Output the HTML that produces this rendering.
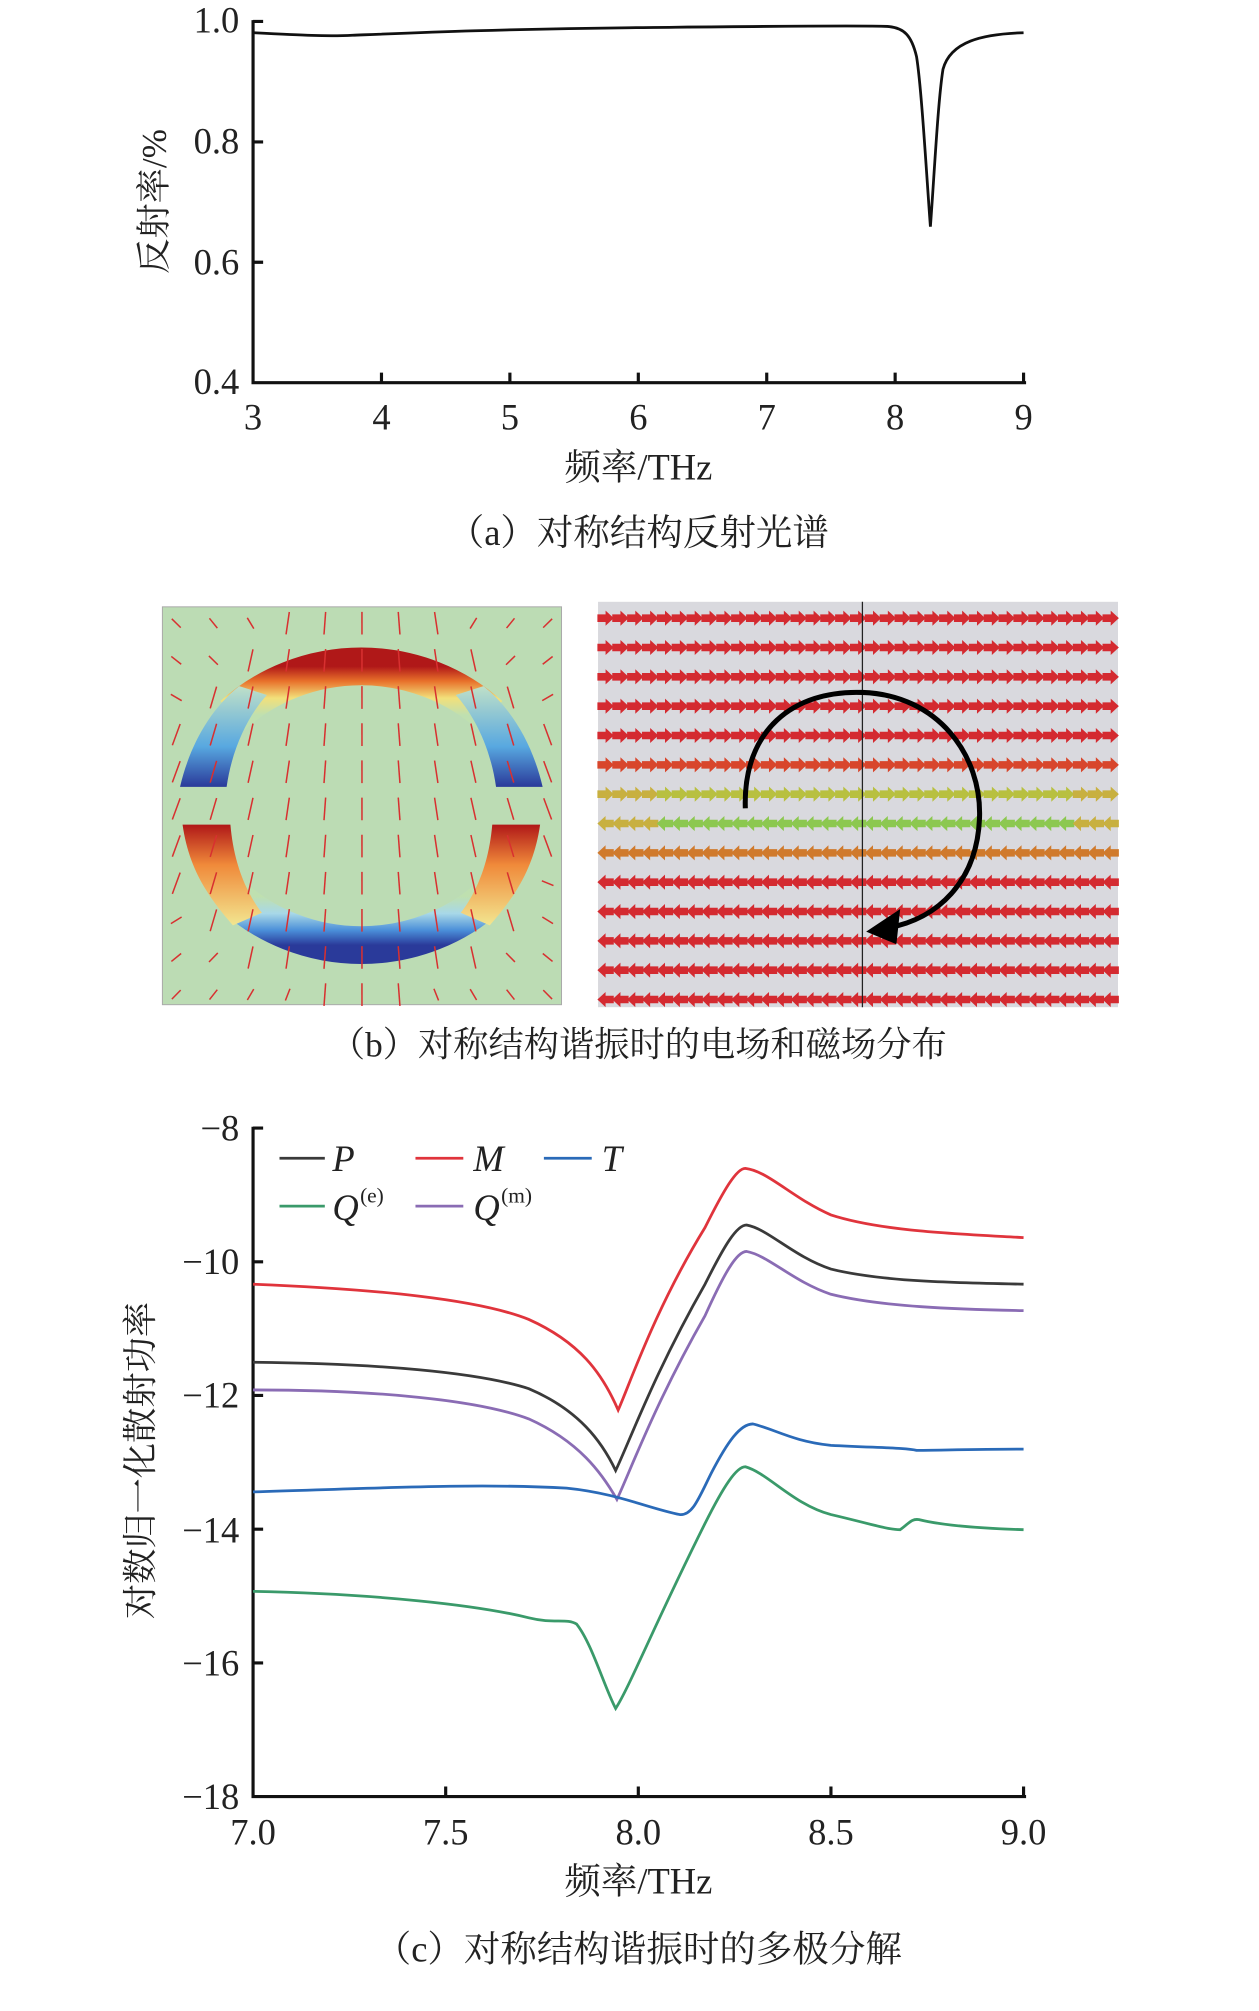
<!DOCTYPE html>
<html><head><meta charset="utf-8"><style>
html,body{margin:0;padding:0;background:#fff;}
svg{display:block;}
text{font-family:"Liberation Serif","Noto Serif CJK SC",serif;fill:#222;}
</style></head><body>
<svg id="s" width="1259" height="2011" viewBox="0 0 1000 1597.3" xmlns="http://www.w3.org/2000/svg">
<defs>
<linearGradient id="gt" x1="0" y1="0" x2="0" y2="1"><stop offset="0" stop-color="#b01818"/><stop offset="0.3" stop-color="#e8702a"/><stop offset="0.65" stop-color="#f2e07a"/><stop offset="1" stop-color="#bfe0b0"/></linearGradient>
<linearGradient id="gb" x1="0" y1="1" x2="0" y2="0"><stop offset="0" stop-color="#2a3a9a"/><stop offset="0.3" stop-color="#4a8ed8"/><stop offset="0.65" stop-color="#a8d8e8"/><stop offset="1" stop-color="#bfe0b0"/></linearGradient>
<linearGradient id="gsb" x1="0" y1="1" x2="0" y2="0"><stop offset="0" stop-color="#2a3a9a"/><stop offset="0.4" stop-color="#58a8e0"/><stop offset="1" stop-color="#bfe0c8"/></linearGradient>
<linearGradient id="gsr" x1="0" y1="0" x2="0" y2="1"><stop offset="0" stop-color="#b01818"/><stop offset="0.4" stop-color="#f08a3a"/><stop offset="1" stop-color="#f2e690"/></linearGradient>
</defs>

<!-- Chart a -->
<g stroke="#111" stroke-width="2.5" fill="none">
<path d="M201,16 V304 H815"/>
<path d="M201,17 h8 M201,112.7 h8 M201,208.3 h8"/>
<path d="M303,304 v-8 M405,304 v-8 M507,304 v-8 M609,304 v-8 M711,304 v-8 M813,304 v-8"/>
</g>
<path d="M201,26 C240,28 260,29 280,28 C330,26 400,23 500,22 C600,21 680,20 705,21 C718,22 724,28 728,45 C732,70 736,140 739,180 C742,140 745,80 749,55 C755,33 780,27 813,26" fill="none" stroke="#111" stroke-width="2.2"/>
<g font-size="29" text-anchor="end">
<text x="190" y="26">1.0</text><text x="190" y="122">0.8</text><text x="190" y="218">0.6</text><text x="190" y="313">0.4</text>
</g>
<g font-size="29" text-anchor="middle">
<text x="201" y="341">3</text><text x="303" y="341">4</text><text x="405" y="341">5</text><text x="507" y="341">6</text><text x="609" y="341">7</text><text x="711" y="341">8</text><text x="813" y="341">9</text>
<text x="507" y="381">频率/THz</text>
<text x="507" y="433">（a）对称结构反射光谱</text>
</g>
<text font-size="28" text-anchor="middle" transform="translate(132,160) rotate(-90)">反射率/%</text>

<!-- Panel b left -->
<rect x="129" y="482" width="317" height="316" fill="#bcdcb4" stroke="#aaa" stroke-width="0.8"/>
<g fill="none" stroke-width="30">
<path d="M185,568 A150,145 0 0 1 389,568" stroke="url(#gt)"/>
<path d="M185,712 A150,145 0 0 0 389,712" stroke="url(#gb)"/>
</g>
<path d="M143,625 L180,625 C185,590 200,565 212,552 L190,545 C165,565 150,595 143,625Z" fill="url(#gsb)"/>
<path d="M431,625 L394,625 C389,590 374,565 362,552 L384,545 C409,565 424,595 431,625Z" fill="url(#gsb)"/>
<path d="M145,655 L183,655 C186,690 198,712 208,725 L185,735 C165,712 150,690 145,655Z" fill="url(#gsr)"/>
<path d="M429,655 L391,655 C388,690 376,712 366,725 L389,735 C409,712 424,690 429,655Z" fill="url(#gsr)"/>
<g id="earrows" stroke="#d83030" stroke-width="1.2"></g>

<!-- Panel b right -->
<rect x="475" y="478" width="413" height="322" fill="#d9d9de"/>
<g id="marrows"></g>
<line x1="685" y1="478" x2="685" y2="800" stroke="#222" stroke-width="1"/>
<path d="M592,642 C590,580 630,548 685,550 C745,552 780,600 778,650 C776,700 745,730 705,737" fill="none" stroke="#000" stroke-width="4"/>
<path d="M688,740 L715,722 L712,750Z" fill="#000"/>
<text font-size="28" text-anchor="middle" x="507" y="839">（b）对称结构谐振时的电场和磁场分布</text>

<!-- Chart c -->
<g stroke="#111" stroke-width="2.5" fill="none">
<path d="M201,895 V1427 H815"/>
<path d="M201,1002.2 h8 M201,1108.4 h8 M201,1214.6 h8 M201,1320.8 h8 M201,896 h8"/>
<path d="M354,1427 v-8 M507,1427 v-8 M660,1427 v-8 M813,1427 v-8"/>
</g>
<g fill="none" stroke-width="2.2">
<path stroke="#e0343c" d="M201,1020 C300,1024 380,1032 420,1048 C460,1066 478,1090 491,1120 C500,1100 520,1040 560,975 C575,945 585,928 592,928 C610,930 630,952 660,965 C700,978 760,980 813,983"/>
<path stroke="#3a3a3a" d="M201,1082 C300,1083 380,1090 420,1103 C460,1120 478,1145 489,1168 C500,1145 520,1090 560,1020 C575,990 585,973 593,973 C610,976 630,998 660,1008 C700,1018 760,1019 813,1020"/>
<path stroke="#8a6cb4" d="M201,1104 C300,1104 380,1112 420,1127 C460,1145 478,1170 490,1191 C500,1170 520,1115 560,1045 C575,1012 585,994 593,994 C610,997 630,1018 660,1028 C700,1038 760,1040 813,1041"/>
<path stroke="#2a6ab8" d="M201,1185 C300,1182 380,1178 450,1182 C490,1186 515,1198 540,1203 C550,1204 555,1190 565,1170 C578,1145 588,1131 598,1131 C615,1135 630,1145 660,1148 C700,1150 720,1150 728,1152 C740,1152 780,1151 813,1151"/>
<path stroke="#3a9a6a" d="M201,1264 C300,1266 380,1275 420,1285 C440,1290 450,1285 458,1290 C470,1305 480,1340 489,1357 C500,1340 520,1290 560,1210 C575,1180 585,1165 592,1165 C610,1170 630,1195 660,1203 C690,1210 705,1215 715,1215 C722,1210 724,1206 730,1207 C750,1212 780,1214 813,1215"/>
</g>
<g stroke-width="2.2">
<line x1="222" y1="920" x2="258" y2="920" stroke="#3a3a3a"/>
<line x1="330" y1="920" x2="368" y2="920" stroke="#e0343c"/>
<line x1="432" y1="920" x2="470" y2="920" stroke="#2a6ab8"/>
<line x1="222" y1="958" x2="258" y2="958" stroke="#3a9a6a"/>
<line x1="330" y1="958" x2="368" y2="958" stroke="#8a6cb4"/>
</g>
<g font-size="29" font-style="italic">
<text x="264" y="930">P</text><text x="376" y="930">M</text><text x="478" y="930">T</text>
<text x="264" y="969">Q</text><text x="376" y="969">Q</text>
</g>
<g font-size="17"><text x="286" y="955">(e)</text><text x="398" y="955">(m)</text></g>
<g font-size="29" text-anchor="end">
<text x="190" y="906">−8</text><text x="190" y="1012">−10</text><text x="190" y="1118">−12</text><text x="190" y="1225">−14</text><text x="190" y="1331">−16</text><text x="190" y="1437">−18</text>
</g>
<g font-size="29" text-anchor="middle">
<text x="201" y="1465">7.0</text><text x="354" y="1465">7.5</text><text x="507" y="1465">8.0</text><text x="660" y="1465">8.5</text><text x="813" y="1465">9.0</text>
<text x="507" y="1504">频率/THz</text>
<text x="507" y="1558">（c）对称结构谐振时的多极分解</text>
</g>
<text font-size="28" text-anchor="middle" transform="translate(121,1160) rotate(-90)">对数归一化散射功率</text>

<script>
(function(){
var NS="http://www.w3.org/2000/svg";
var e=document.getElementById("earrows");
for(var i=0;i<11;i++)for(var j=0;j<11;j++){
 var x=140+i*29.5,y=495+j*29.5,dx=x-287,dy=y-640;
 var r=Math.sqrt(dx*dx+dy*dy);
 var ux=0,uy=1,L=14;
 if(r>160){ux=dx/r;uy=dy/r;L=10;} else {ux=dx/400;uy=1;var n=Math.sqrt(ux*ux+1);ux/=n;uy/=n;L=18;}
 var l=document.createElementNS(NS,"line");
 l.setAttribute("x1",x-ux*L/2);l.setAttribute("y1",y-uy*L/2);l.setAttribute("x2",x+ux*L/2);l.setAttribute("y2",y+uy*L/2);
 e.appendChild(l);
}
var m=document.getElementById("marrows");
var cols=["#d42a30","#d42a30","#d42a30","#d42a30","#d42a30","#d8462c","#b8c040","#8cc850","#d07a2c","#d42a30","#d42a30","#d42a30","#d42a30","#d42a30"];
for(var r=0;r<14;r++){
 var y=491+r*23.3;
 for(var c=0;c<35;c++){
  var x=481+c*11.8;
  var dir=r<7?1:-1;
  var g=document.createElementNS(NS,"path");
  var a=dir*6.5;
  g.setAttribute("d","M"+(x-a)+","+(y-3)+" L"+(x)+","+(y-3)+" L"+(x)+","+(y-6)+" L"+(x+a)+","+y+" L"+(x)+","+(y+6)+" L"+(x)+","+(y+3)+" L"+(x-a)+","+(y+3)+"Z");
  var col=cols[r];
  if((r==6||r==7)&&(c<4||c>31))col="#c8b040";
  g.setAttribute("fill",col);
  m.appendChild(g);
 }
}
})();
</script>
</svg>
</body></html>
